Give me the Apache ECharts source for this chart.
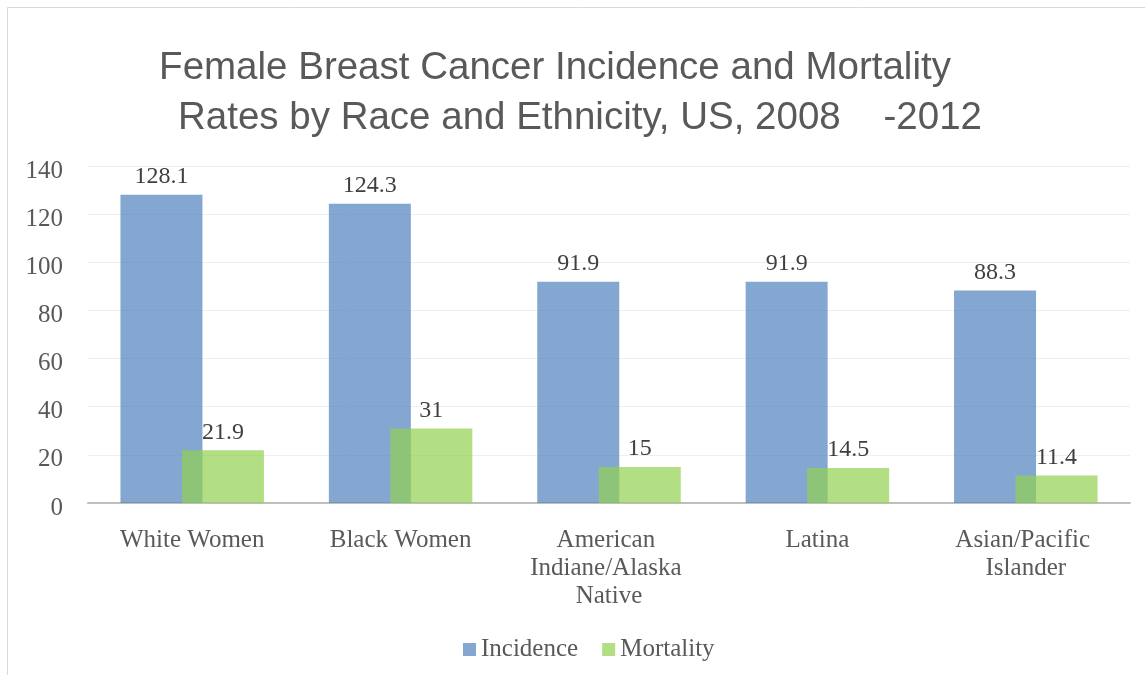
<!DOCTYPE html>
<html>
<head>
<meta charset="utf-8">
<style>
  html, body { margin: 0; padding: 0; background: #fff; }
  #chart { width: 1145px; height: 675px; }
</style>
<script src="https://cdn.jsdelivr.net/npm/echarts@6/dist/echarts.min.js"></script>
</head>
<body>
<div id="chart"></div>
<script>
  // 数据
  const categories = ['White Women', 'Black Women', 'American Indiane/Alaska Native', 'Latina', 'Asian/Pacific Islander']
  const incidence = [128.1, 124.3, 91.9, 91.9, 88.3]
  const mortality = [21.9, 31, 15, 14.5, 11.4]
  const seriesNames = ['Incidence', 'Mortality']
  const titleLines = ['Female Breast Cancer Incidence and Mortality', 'Rates by Race and Ethnicity, US, 2008    -2012']

  const serif = '"Liberation Serif", "DejaVu Serif", serif'
  const sans = '"Liberation Sans", sans-serif'

  const chart = echarts.init(document.getElementById('chart'))

  const labelStyle = {
    show: true,
    position: 'top',
    distance: 6,
    color: '#404040',
    fontFamily: serif,
    fontSize: 24
  }

  chart.setOption({
    animation: false,
    graphic: [
      // 外框
      {
        type: 'rect',
        shape: { x: 7.5, y: 7.5, width: 1200, height: 700 },
        style: { fill: 'none', stroke: '#d9d9d9', lineWidth: 1 },
        silent: true
      },
      // 标题
      {
        type: 'text',
        x: 555,
        y: 68,
        style: { text: titleLines[0], align: 'center', verticalAlign: 'middle', fill: '#595959', font: '38.5px ' + sans }
      },
      {
        type: 'text',
        x: 580,
        y: 118,
        style: { text: titleLines[1], align: 'center', verticalAlign: 'middle', fill: '#595959', font: '38.5px ' + sans }
      }
    ],
    grid: {
      left: 88,
      right: 15,
      top: 166,
      bottom: 172
    },
    legend: {
      data: seriesNames,
      left: 458,
      top: 632,
      itemWidth: 13,
      itemHeight: 13,
      itemGap: 24,
      icon: 'rect',
      textStyle: { color: '#595959', fontFamily: serif, fontSize: 25 }
    },
    xAxis: {
      type: 'category',
      data: categories,
      axisLine: { lineStyle: { color: '#bfbfbf', width: 2 } },
      axisTick: { show: false },
      axisLabel: {
        color: '#595959',
        fontFamily: serif,
        fontSize: 25,
        margin: 23,
        lineHeight: 28,
        width: 170,
        overflow: 'break',
        interval: 0
      }
    },
    yAxis: {
      type: 'value',
      min: 0,
      max: 140,
      interval: 20,
      axisLine: { show: false },
      axisTick: { show: false },
      splitLine: { lineStyle: { color: '#efefef', width: 1 } },
      axisLabel: {
        color: '#595959',
        fontFamily: serif,
        fontSize: 25,
        margin: 25,
        verticalAlign: 'top',
        lineHeight: 10
      }
    },
    series: [
      {
        name: seriesNames[0],
        type: 'bar',
        data: incidence,
        barWidth: 82,
        barGap: '-25%',
        itemStyle: { color: 'rgba(79,129,189,0.7)' },
        label: labelStyle
      },
      {
        name: seriesNames[1],
        type: 'bar',
        data: mortality,
        barWidth: 82,
        itemStyle: { color: 'rgba(146,208,80,0.7)' },
        label: labelStyle
      }
    ]
  })
</script>
</body>
</html>
